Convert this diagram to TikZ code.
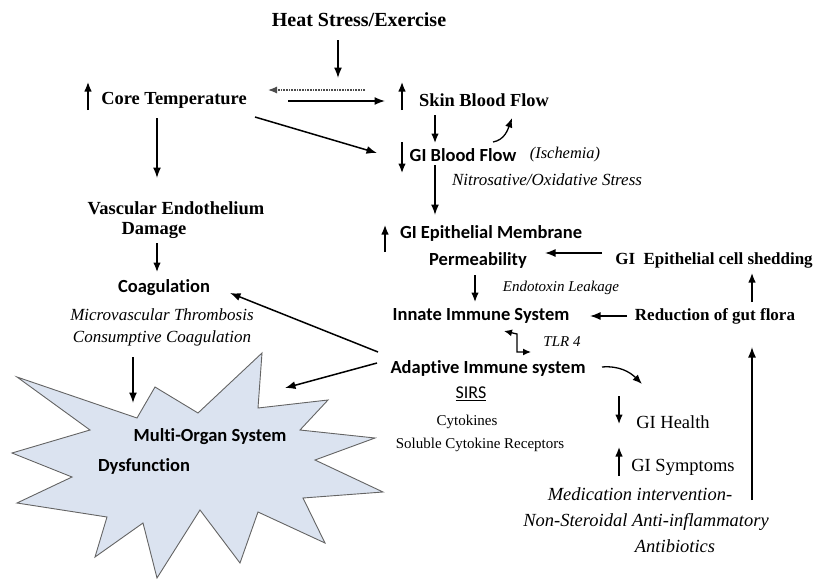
\documentclass[tikz,border=0pt]{standalone}
\usepackage{fontspec}
\setmainfont{Liberation Serif}
\newfontfamily\calibfont[Ligatures=NoCommon]{Carlito}
\usetikzlibrary{arrows.meta}
\definecolor{starfill}{RGB}{219,227,240}
\definecolor{stardraw}{RGB}{100,100,100}
\begin{document}
\begin{tikzpicture}[x=1pt,y=-1pt,
  every node/.style={inner sep=0pt,outer sep=0pt},
  hdr/.style={font=\fontsize{20}{22}\selectfont\bfseries},
  sb/.style={font=\fontsize{#1}{#1}\selectfont\bfseries},
  sr/.style={font=\fontsize{#1}{#1}\selectfont},
  si/.style={font=\fontsize{#1}{#1}\selectfont\itshape},
  cb/.style={font=\calibfont\fontsize{18.5}{20}\selectfont\bfseries},
  cr/.style={font=\calibfont\fontsize{#1}{#1}\selectfont},
  arr/.style={line width=1.5pt,-{Latex[length=10.5pt,width=8pt]}},
  sarr/.style={line width=1.3pt,-{Latex[length=9.5pt,width=7.5pt]}},
  dotarr/.style={line width=1.2pt,black!70,dash pattern=on 0.8pt off 0.8pt,-{Latex[length=9pt,width=7pt]}},
  dblarr/.style={line width=1.3pt,{Latex[length=8pt,width=7pt]}-{Latex[length=8pt,width=7pt]}},
]
\useasboundingbox (0,0) rectangle (814,581);

% starburst
\filldraw[fill=starfill,draw=stardraw,line width=0.9pt,line join=miter]
 (17,377) -- (137,418) -- (155,387) -- (198,413) -- (262,353) -- (258,408)
 -- (328,400) -- (300,430) -- (375,438) -- (315,460) -- (383,492) -- (303,498)
 -- (325,543) -- (258,512) -- (240,563) -- (200,510) -- (157,578) -- (143,523)
 -- (95,557) -- (107,517) -- (17,503) -- (72,477) -- (12,453) -- (90,430) -- cycle;

% nodes
\node[hdr] (heat) at (359,20) {Heat Stress/Exercise};
\node[sb=18.4] (core) at (174,100) {Core Temperature};
\node[sb=18.4] (skin) at (484,100) {Skin Blood Flow};
\node[cb] (gibf) at (463,155) {GI Blood Flow};
\node[si=16.4] (isch) at (565,155) {(Ischemia)};
\node[si=17] (nitro) at (547,180) {Nitrosative/Oxidative Stress};
\node[cb] (giem) at (491,233) {GI Epithelial Membrane};
\node[cb] (perm) at (478,260) {Permeability};
\node[sb=17] (shed) at (714,260) {GI\ \ Epithelial cell shedding};
\node[si=15] (endo) at (561,288) {Endotoxin Leakage};
\node[cb] (innate) at (481,316) {Innate Immune System};
\node[sb=17] (reduc) at (715,316) {Reduction of gut flora};
\node[si=15] (tlr) at (562,342) {TLR 4};
\node[cb] (adapt) at (488,368) {Adaptive Immune system};
\node[cr=18] (sirs) at (471,394) {\underline{SIRS}};
\node[sr=15] (cyto) at (467,422) {Cytokines};
\node[sr=15] (scr) at (480,445) {Soluble Cytokine Receptors};
\node[sr=18.5] (health) at (673,422) {GI Health};
\node[sr=18.5] (symp) at (683,467) {GI Symptoms};
\node[si=18.5] (med) at (640,494) {Medication intervention-};
\node[si=18.5] (nsaid) at (646,522) {Non-Steroidal Anti-inflammatory};
\node[si=18.5] (anti) at (675,546) {Antibiotics};
\node[sb=18.5] (vasc) at (176,208) {Vascular Endothelium};
\node[sb=18.5] (dam) at (154,230) {Damage};
\node[cb] (coag) at (164,288) {Coagulation};
\node[si=17] (micro) at (162,315) {Microvascular Thrombosis};
\node[si=17] (cons) at (162,338) {Consumptive Coagulation};
\node[cb] (multi) at (210,437) {Multi-Organ System};
\node[cb] (dysf) at (144,466) {Dysfunction};

% coordinates for arrow ends
\coordinate (h1) at (338,40);   \coordinate (h2) at (338,78);
\coordinate (d1) at (365,90);   \coordinate (d2) at (268,90);
\coordinate (r1) at (288,101);  \coordinate (r2) at (385,101);
\coordinate (cu1) at (88,110);  \coordinate (cu2) at (88,82);
\coordinate (su1) at (402,110); \coordinate (su2) at (402,82);
\coordinate (cg1) at (255,117); \coordinate (cg2) at (377,153);
\coordinate (sg1) at (435,115); \coordinate (sg2) at (435,143);
\coordinate (gs1) at (493,142); \coordinate (gs2) at (512,118);
\coordinate (gd1) at (402,142); \coordinate (gd2) at (402,173);
\coordinate (ge1) at (435,165); \coordinate (ge2) at (435,215);
\coordinate (eu1) at (385,252); \coordinate (eu2) at (385,225);
\coordinate (sp1) at (602,253); \coordinate (sp2) at (545,253);
\coordinate (rs1) at (752,302); \coordinate (rs2) at (752,273);
\coordinate (pi1) at (475,275); \coordinate (pi2) at (475,302);
\coordinate (ri1) at (627,316); \coordinate (ri2) at (590,316);
\coordinate (t1) at (504,331);  \coordinate (t2) at (517,334);
\coordinate (t3) at (517,352);  \coordinate (t4) at (531,352);
\coordinate (ac1) at (378,352); \coordinate (ac2) at (230,293);
\coordinate (as1) at (377,363); \coordinate (as2) at (285,388);
\coordinate (ah1) at (602,367); \coordinate (ah2) at (642,384);
\coordinate (hd1) at (619,396); \coordinate (hd2) at (619,424);
\coordinate (yu1) at (619,476); \coordinate (yu2) at (619,447);
\coordinate (lv1) at (752,500); \coordinate (lv2) at (752,347);
\coordinate (cv1) at (157,118); \coordinate (cv2) at (157,178);
\coordinate (dc1) at (157,243); \coordinate (dc2) at (157,272);
\coordinate (cs1) at (133,357); \coordinate (cs2) at (133,403);

% connectors
\draw[arr] (h1) -- (h2);
\draw[dotarr] (d1) -- (d2);
\draw[arr] (r1) -- (r2);
\draw[sarr] (cu1) -- (cu2);
\draw[sarr] (su1) -- (su2);
\draw[arr] (cg1) -- (cg2);
\draw[sarr] (sg1) -- (sg2);
\draw[sarr] (gs1) to[out=10,in=-110] (gs2);
\draw[sarr] (gd1) -- (gd2);
\draw[arr] (ge1) -- (ge2);
\draw[sarr] (eu1) -- (eu2);
\draw[arr] (sp1) -- (sp2);
\draw[sarr] (rs1) -- (rs2);
\draw[sarr] (pi1) -- (pi2);
\draw[arr] (ri1) -- (ri2);
\draw[dblarr] (t1) -- (t2) -- (t3) -- (t4);
\draw[arr] (ac1) -- (ac2);
\draw[arr] (as1) -- (as2);
\draw[sarr] (ah1) to[out=5,in=135] (ah2);
\draw[sarr] (hd1) -- (hd2);
\draw[sarr] (yu1) -- (yu2);
\draw[arr] (lv1) -- (lv2);
\draw[arr] (cv1) -- (cv2);
\draw[sarr] (dc1) -- (dc2);
\draw[arr] (cs1) -- (cs2);
\end{tikzpicture}
\end{document}
